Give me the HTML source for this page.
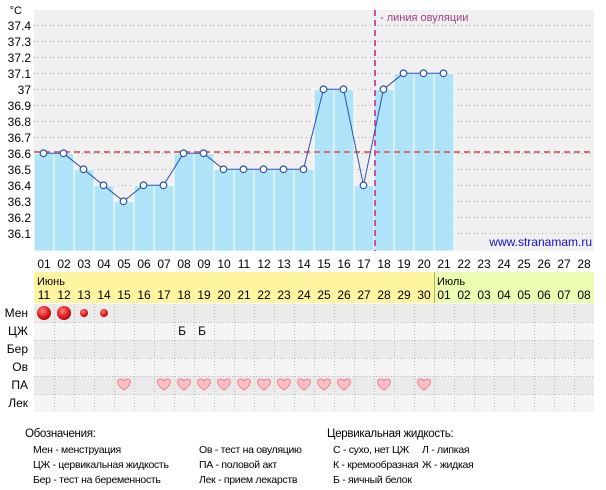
<!DOCTYPE html>
<html><head><meta charset="utf-8"><style>
html,body{margin:0;padding:0;background:#fff;}
svg{display:block;font-family:"Liberation Sans","DejaVu Sans",sans-serif;}
</style></head><body>
<svg width="606" height="490" xmlns="http://www.w3.org/2000/svg">
<rect x="34" y="10" width="560" height="241" fill="#f0f0f0"/>
<g stroke="#aaa" stroke-dasharray="1,3" stroke-width="1">
<line x1="34" x2="594" y1="25.5" y2="25.5"/><line x1="34" x2="594" y1="41.5" y2="41.5"/>
<line x1="34" x2="594" y1="57.5" y2="57.5"/><line x1="34" x2="594" y1="73.5" y2="73.5"/>
<line x1="34" x2="594" y1="89.5" y2="89.5"/><line x1="34" x2="594" y1="105.5" y2="105.5"/>
<line x1="34" x2="594" y1="121.5" y2="121.5"/><line x1="34" x2="594" y1="137.5" y2="137.5"/>
<line x1="34" x2="594" y1="153.5" y2="153.5"/><line x1="34" x2="594" y1="169.5" y2="169.5"/>
<line x1="34" x2="594" y1="185.5" y2="185.5"/><line x1="34" x2="594" y1="201.5" y2="201.5"/>
<line x1="34" x2="594" y1="217.5" y2="217.5"/><line x1="34" x2="594" y1="233.5" y2="233.5"/>
</g>
<g font-size="12" fill="#000" text-anchor="end">
<text x="22" y="14" font-size="11">°C</text>
<text x="31" y="30">37.4</text><text x="31" y="46">37.3</text><text x="31" y="62">37.2</text>
<text x="31" y="78">37.1</text><text x="31" y="94">37</text><text x="31" y="110">36.9</text>
<text x="31" y="126">36.8</text><text x="31" y="142">36.7</text><text x="31" y="158">36.6</text>
<text x="31" y="174">36.5</text><text x="31" y="190">36.4</text><text x="31" y="206">36.3</text>
<text x="31" y="222">36.2</text><text x="31" y="238">36.1</text>
</g>
<g fill="#aee3f8" stroke="#fff" stroke-width="1">
<rect x="34" y="153.3" width="20" height="97.7"/><rect x="54" y="153.3" width="20" height="97.7"/>
<rect x="74" y="169.3" width="20" height="81.7"/><rect x="94" y="185.3" width="20" height="65.7"/>
<rect x="114" y="201.3" width="20" height="49.7"/><rect x="134" y="185.3" width="20" height="65.7"/>
<rect x="154" y="185.3" width="20" height="65.7"/><rect x="174" y="153.3" width="20" height="97.7"/>
<rect x="194" y="153.3" width="20" height="97.7"/><rect x="214" y="169.3" width="20" height="81.7"/>
<rect x="234" y="169.3" width="20" height="81.7"/><rect x="254" y="169.3" width="20" height="81.7"/>
<rect x="274" y="169.3" width="20" height="81.7"/><rect x="294" y="169.3" width="20" height="81.7"/>
<rect x="314" y="89.3" width="20" height="161.7"/><rect x="334" y="89.3" width="20" height="161.7"/>
<rect x="354" y="185.3" width="20" height="65.7"/><rect x="374" y="89.3" width="20" height="161.7"/>
<rect x="394" y="73.3" width="20" height="177.7"/><rect x="414" y="73.3" width="20" height="177.7"/>
<rect x="434" y="73.3" width="20" height="177.7"/>
</g>
<line x1="34" x2="594" y1="152" y2="152" stroke="#d87070" stroke-width="2" stroke-dasharray="6,4"/>
<line x1="375" x2="375" y1="10" y2="251" stroke="#d050a0" stroke-width="2" stroke-dasharray="6,4"/>
<text x="380" y="21" font-size="11" fill="#a04080">- линия овуляции</text>
<polyline fill="none" stroke="#3050b0" stroke-width="1" points="43.5,153.3 63.5,153.3 83.5,169.3 103.5,185.3 123.5,201.3 143.5,185.3 163.5,185.3 183.5,153.3 203.5,153.3 223.5,169.3 243.5,169.3 263.5,169.3 283.5,169.3 303.5,169.3 323.5,89.3 343.5,89.3 363.5,185.3 383.5,89.3 403.5,73.3 423.5,73.3 443.5,73.3"/>
<g fill="#fff" stroke="#3050b0" stroke-width="1.2">
<circle cx="43.5" cy="153.3" r="3.3"/><circle cx="63.5" cy="153.3" r="3.3"/><circle cx="83.5" cy="169.3" r="3.3"/>
<circle cx="103.5" cy="185.3" r="3.3"/><circle cx="123.5" cy="201.3" r="3.3"/><circle cx="143.5" cy="185.3" r="3.3"/>
<circle cx="163.5" cy="185.3" r="3.3"/><circle cx="183.5" cy="153.3" r="3.3"/><circle cx="203.5" cy="153.3" r="3.3"/>
<circle cx="223.5" cy="169.3" r="3.3"/><circle cx="243.5" cy="169.3" r="3.3"/><circle cx="263.5" cy="169.3" r="3.3"/>
<circle cx="283.5" cy="169.3" r="3.3"/><circle cx="303.5" cy="169.3" r="3.3"/><circle cx="323.5" cy="89.3" r="3.3"/>
<circle cx="343.5" cy="89.3" r="3.3"/><circle cx="363.5" cy="185.3" r="3.3"/><circle cx="383.5" cy="89.3" r="3.3"/>
<circle cx="403.5" cy="73.3" r="3.3"/><circle cx="423.5" cy="73.3" r="3.3"/><circle cx="443.5" cy="73.3" r="3.3"/>
</g>
<text x="592" y="246" font-size="12" fill="#1010d0" text-anchor="end">www.stranamam.ru</text>
<g font-size="12" text-anchor="middle">
<text x="44" y="268">01</text><text x="64" y="268">02</text><text x="84" y="268">03</text><text x="104" y="268">04</text>
<text x="124" y="268">05</text><text x="144" y="268">06</text><text x="164" y="268">07</text><text x="184" y="268">08</text>
<text x="204" y="268">09</text><text x="224" y="268">10</text><text x="244" y="268">11</text><text x="264" y="268">12</text>
<text x="284" y="268">13</text><text x="304" y="268">14</text><text x="324" y="268">15</text><text x="344" y="268">16</text>
<text x="364" y="268">17</text><text x="384" y="268">18</text><text x="404" y="268">19</text><text x="424" y="268">20</text>
<text x="444" y="268">21</text><text x="464" y="268">22</text><text x="484" y="268">23</text><text x="504" y="268">24</text>
<text x="524" y="268">25</text><text x="544" y="268">26</text><text x="564" y="268">27</text><text x="584" y="268">28</text>
</g>
<rect x="34" y="272" width="400" height="31" fill="#fff5a0"/>
<rect x="434" y="272" width="160" height="31" fill="#ecfcb0"/>
<line x1="434.5" x2="434.5" y1="272" y2="303" stroke="#a0c040"/>
<text x="37" y="285" font-size="11">Июнь</text>
<text x="437" y="285" font-size="11">Июль</text>
<g font-size="12" text-anchor="middle">
<text x="44" y="299">11</text><text x="64" y="299">12</text><text x="84" y="299">13</text><text x="104" y="299">14</text>
<text x="124" y="299">15</text><text x="144" y="299">16</text><text x="164" y="299">17</text><text x="184" y="299">18</text>
<text x="204" y="299">19</text><text x="224" y="299">20</text><text x="244" y="299">21</text><text x="264" y="299">22</text>
<text x="284" y="299">23</text><text x="304" y="299">24</text><text x="324" y="299">25</text><text x="344" y="299">26</text>
<text x="364" y="299">27</text><text x="384" y="299">28</text><text x="404" y="299">29</text><text x="424" y="299">30</text>
<text x="444" y="299">01</text><text x="464" y="299">02</text><text x="484" y="299">03</text><text x="504" y="299">04</text>
<text x="524" y="299">05</text><text x="544" y="299">06</text><text x="564" y="299">07</text><text x="584" y="299">08</text>
</g>
<rect x="34" y="304" width="560" height="18" fill="#ebebeb"/>
<rect x="34" y="322" width="560" height="18" fill="#f5f5f5"/>
<rect x="34" y="340" width="560" height="18" fill="#ebebeb"/>
<rect x="34" y="358" width="560" height="18" fill="#f5f5f5"/>
<rect x="34" y="376" width="560" height="18" fill="#ebebeb"/>
<rect x="34" y="394" width="560" height="18" fill="#f5f5f5"/>
<g stroke="#bbb" stroke-dasharray="1,2">
<line x1="34" x2="594" y1="322.5" y2="322.5"/><line x1="34" x2="594" y1="340.5" y2="340.5"/>
<line x1="34" x2="594" y1="358.5" y2="358.5"/><line x1="34" x2="594" y1="376.5" y2="376.5"/>
<line x1="34" x2="594" y1="394.5" y2="394.5"/>
<path d="M54.5 304V412M74.5 304V412M94.5 304V412M114.5 304V412M134.5 304V412M154.5 304V412M174.5 304V412M194.5 304V412M214.5 304V412M234.5 304V412M254.5 304V412M274.5 304V412M294.5 304V412M314.5 304V412M334.5 304V412M354.5 304V412M374.5 304V412M394.5 304V412M414.5 304V412M434.5 304V412M454.5 304V412M474.5 304V412M494.5 304V412M514.5 304V412M534.5 304V412M554.5 304V412M574.5 304V412"/>
</g>
<g font-size="12" text-anchor="end">
<text x="28" y="317">Мен</text><text x="28" y="335">ЦЖ</text><text x="28" y="353">Бер</text>
<text x="28" y="371">Ов</text><text x="28" y="389">ПА</text><text x="28" y="407">Лек</text>
</g>
<defs>
<radialGradient id="rg" cx="0.4" cy="0.35" r="0.7"><stop offset="0" stop-color="#ff8080"/><stop offset="0.6" stop-color="#e02020"/><stop offset="1" stop-color="#b00000"/></radialGradient>
<path id="hp" d="M0,5 C-9,-1 -7,-6 -3.5,-6 C-1.5,-6 0,-4.5 0,-3.5 C0,-4.5 1.5,-6 3.5,-6 C7,-6 9,-1 0,5Z" fill="#ffc0c8" stroke="#f07890" stroke-width="1"/>
</defs>
<circle cx="44" cy="313" r="7" fill="url(#rg)"/><circle cx="64" cy="313" r="7" fill="url(#rg)"/>
<circle cx="84" cy="313" r="4" fill="url(#rg)"/><circle cx="104" cy="313" r="4" fill="url(#rg)"/>
<text x="182" y="335" font-size="12" text-anchor="middle">Б</text>
<text x="202" y="335" font-size="12" text-anchor="middle">Б</text>
<g transform="translate(0,385)">
<use href="#hp" x="124"/><use href="#hp" x="164"/><use href="#hp" x="184"/><use href="#hp" x="204"/>
<use href="#hp" x="224"/><use href="#hp" x="244"/><use href="#hp" x="264"/><use href="#hp" x="284"/>
<use href="#hp" x="304"/><use href="#hp" x="324"/><use href="#hp" x="344"/><use href="#hp" x="384"/>
<use href="#hp" x="424"/>
</g>
<g font-size="10.5" fill="#000" letter-spacing="-0.3">
<text x="25" y="437" font-size="11.5">Обозначения:</text>
<text x="33" y="453">Мен - менструация</text>
<text x="33" y="468">ЦЖ - цервикальная жидкость</text>
<text x="33" y="483">Бер - тест на беременность</text>
<text x="199" y="453">Ов - тест на овуляцию</text>
<text x="199" y="468">ПА - половой акт</text>
<text x="199" y="483">Лек - прием лекарств</text>
<text x="327" y="437" font-size="11.5">Цервикальная жидкость:</text>
<text x="333" y="453">С - сухо, нет ЦЖ</text>
<text x="333" y="468">К - кремообразная</text>
<text x="333" y="483">Б - яичный белок</text>
<text x="422" y="453">Л - липкая</text>
<text x="422" y="468">Ж - жидкая</text>
</g>
</svg>
</body></html>
